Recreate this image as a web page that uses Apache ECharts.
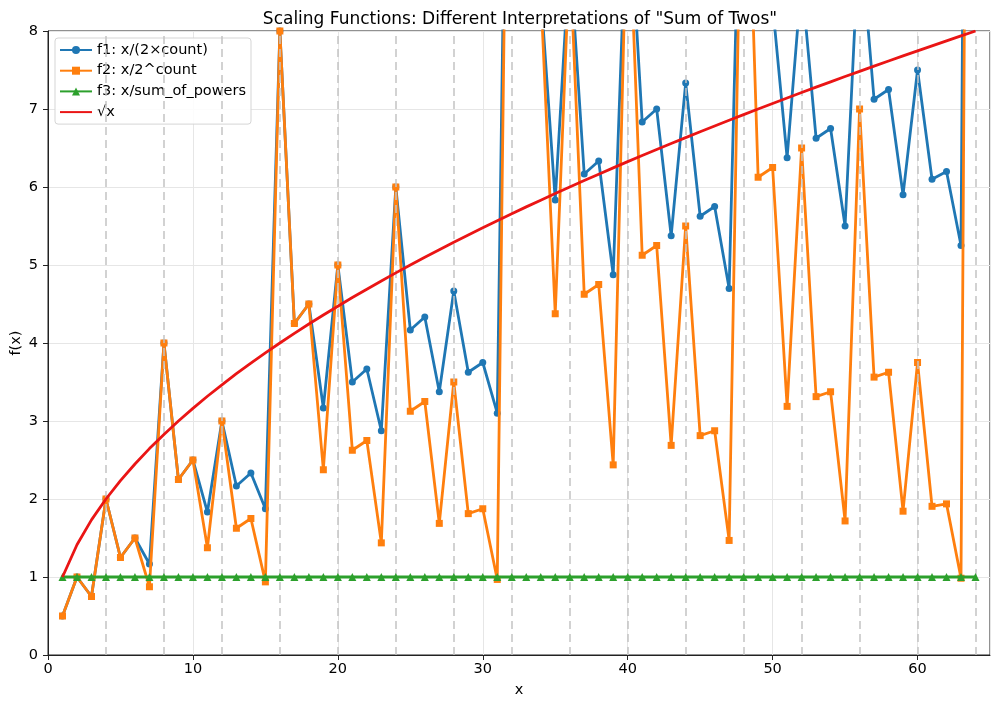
<!DOCTYPE html>
<html>
<head>
<meta charset="utf-8">
<script src="https://cdn.jsdelivr.net/npm/echarts@6/dist/echarts.min.js"></script>
<style>
  html, body { margin: 0; padding: 0; background: #fff; }
  #main { width: 1000px; height: 708px; }
</style>
</head>
<body>
<div id="main"></div>
<script>
// x = 1..64
var xs = [];
for (var i = 1; i <= 64; i++) xs.push(i);

var f1 = [0.5, 1, 0.75, 2, 1.25, 1.5, 1.167, 4, 2.25, 2.5, 1.833, 3, 2.167, 2.333, 1.875, 8,
    4.25, 4.5, 3.167, 5, 3.5, 3.667, 2.875, 6, 4.167, 4.333, 3.375, 4.667, 3.625, 3.75, 3.1, 16,
    8.25, 8.5, 5.833, 9, 6.167, 6.333, 4.875, 10, 6.833, 7, 5.375, 7.333, 5.625, 5.75, 4.7, 12,
    8.167, 8.333, 6.375, 8.667, 6.625, 6.75, 5.5, 9.333, 7.125, 7.25, 5.9, 7.5, 6.1, 6.2, 5.25, 32];

var f2 = [0.5, 1, 0.75, 2, 1.25, 1.5, 0.875, 4, 2.25, 2.5, 1.375, 3, 1.625, 1.75, 0.9375, 8,
    4.25, 4.5, 2.375, 5, 2.625, 2.75, 1.4375, 6, 3.125, 3.25, 1.6875, 3.5, 1.8125, 1.875, 0.96875, 16,
    8.25, 8.5, 4.375, 9, 4.625, 4.75, 2.4375, 10, 5.125, 5.25, 2.6875, 5.5, 2.8125, 2.875, 1.46875, 12,
    6.125, 6.25, 3.1875, 6.5, 3.3125, 3.375, 1.71875, 7, 3.5625, 3.625, 1.84375, 3.75, 1.90625, 1.9375, 0.984375, 32];

var f3 = [1, 1, 1, 1, 1, 1, 1, 1, 1, 1, 1, 1, 1, 1, 1, 1,
    1, 1, 1, 1, 1, 1, 1, 1, 1, 1, 1, 1, 1, 1, 1, 1,
    1, 1, 1, 1, 1, 1, 1, 1, 1, 1, 1, 1, 1, 1, 1, 1,
    1, 1, 1, 1, 1, 1, 1, 1, 1, 1, 1, 1, 1, 1, 1, 1];

var sqrtx = [1, 1.414, 1.732, 2, 2.236, 2.449, 2.646, 2.828, 3, 3.162, 3.317, 3.464, 3.606, 3.742, 3.873, 4,
    4.123, 4.243, 4.359, 4.472, 4.583, 4.690, 4.796, 4.899, 5, 5.099, 5.196, 5.292, 5.385, 5.477, 5.568, 5.657,
    5.745, 5.831, 5.916, 6, 6.083, 6.164, 6.245, 6.325, 6.403, 6.481, 6.557, 6.633, 6.708, 6.782, 6.856, 6.928,
    7, 7.071, 7.141, 7.211, 7.280, 7.348, 7.416, 7.483, 7.550, 7.616, 7.681, 7.746, 7.810, 7.874, 7.937, 8];

// dashed reference lines
var marks = [4, 8, 12, 16, 20, 24, 28, 32, 36, 40, 44, 48, 52, 56, 60, 64];

var names = ['f1: x/(2×count)', 'f2: x/2^count', 'f3: x/sum_of_powers', '√x'];

function pairs(ys) {
    return xs.map(function(x, k) { return [x, ys[k]]; });
}

var font = 'DejaVu Sans';
var myChart = echarts.init(document.getElementById('main'), null, { renderer: 'canvas' });

function lineSeries(name, ys, color, symbol, size, z) {
    return {
        name: name,
        type: 'line',
        data: pairs(ys),
        symbol: symbol,
        symbolSize: size,
        showSymbol: symbol !== 'none',
        clip: true,
        z: z,
        lineStyle: { color: color, width: 2.8 },
        itemStyle: { color: color },
        emphasis: { disabled: true }
    };
}

var option = {
    animation: false,
    backgroundColor: '#fff',
    textStyle: { fontFamily: font },
    title: {
        text: 'Scaling Functions: Different Interpretations of "Sum of Twos"',
        left: 515,
        textAlign: 'center',
        top: 6,
        textStyle: { fontFamily: font, fontSize: 17, fontWeight: 'normal', color: '#000' }
    },
    legend: {
        orient: 'vertical',
        left: 55,
        top: 38,
        data: [
            { name: names[0] },
            { name: names[1] },
            { name: names[2] },
            { name: names[3], itemStyle: { opacity: 0 } }
        ],
        itemWidth: 32,
        itemHeight: 10,
        itemGap: 4.7,
        padding: [4, 5, 4, 4],
        backgroundColor: 'rgba(255,255,255,0.85)',
        borderColor: '#d5d5d5',
        borderWidth: 1,
        borderRadius: 3,
        textStyle: { fontFamily: font, fontSize: 14.5, lineHeight: 16, color: '#000' }
    },
    grid: {
        left: 48,
        right: 10,
        top: 31,
        bottom: 53,
        show: true,
        borderColor: '#222',
        borderWidth: 1,
        containLabel: false,
        outerBoundsMode: 'none'
    },
    xAxis: {
        type: 'value',
        min: 0,
        max: 65,
        interval: 10,
        name: 'x',
        nameLocation: 'middle',
        nameGap: 28,
        nameMoveOverlap: false,
        nameTextStyle: { fontFamily: font, fontSize: 14.5, color: '#000' },
        axisLine: { show: true, lineStyle: { color: '#222', width: 1 } },
        axisTick: { show: true, length: 5, inside: false, lineStyle: { color: '#222' } },
        axisLabel: { fontFamily: font, fontSize: 14.5, color: '#000', margin: 7, showMaxLabel: false },
        splitLine: { show: true, lineStyle: { color: '#e6e6e6', width: 1 } }
    },
    yAxis: {
        type: 'value',
        min: 0,
        max: 8,
        interval: 1,
        name: 'f(x)',
        nameLocation: 'middle',
        nameGap: 24,
        nameMoveOverlap: false,
        nameTextStyle: { fontFamily: font, fontSize: 14.5, color: '#000' },
        axisLine: { show: true, lineStyle: { color: '#222', width: 1 } },
        axisTick: { show: true, length: 5, inside: false, lineStyle: { color: '#222' } },
        axisLabel: { fontFamily: font, fontSize: 14.5, color: '#000', margin: 10 },
        splitLine: { show: true, lineStyle: { color: '#e6e6e6', width: 1 } }
    },
    series: [
        {
            name: 'marks',
            type: 'line',
            data: [],
            z: 1,
            silent: true,
            markLine: {
                silent: true,
                symbol: 'none',
                animation: false,
                label: { show: false },
                lineStyle: { color: '#c4c4c4', width: 1.5, type: [8, 5] },
                data: marks.map(function(m) { return { xAxis: m }; })
            }
        },
        lineSeries(names[0], f1, '#1f77b4', 'circle', 7, 3),
        lineSeries(names[1], f2, '#ff7f0e', 'rect', 7, 4),
        lineSeries(names[2], f3, '#2ca02c', 'triangle', 8, 5),
        lineSeries(names[3], sqrtx, '#ea1515', 'none', 0, 6)
    ]
};

myChart.setOption(option);
</script>
</body>
</html>
